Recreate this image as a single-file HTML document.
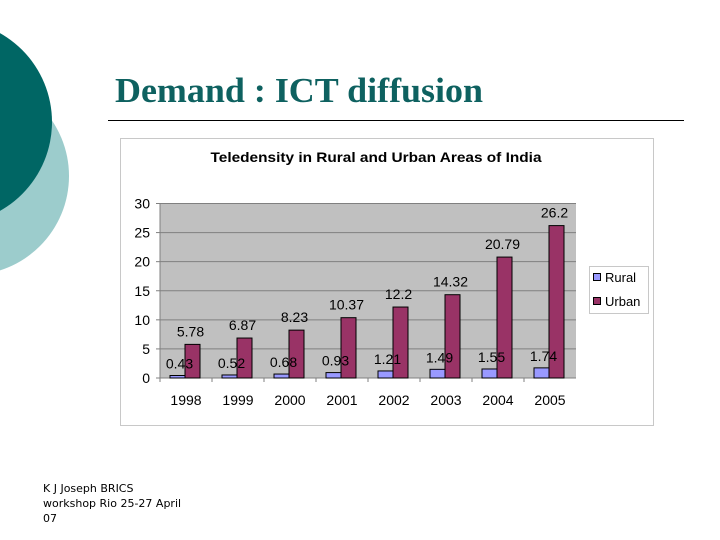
<!DOCTYPE html>
<html><head><meta charset="utf-8"><style>
body{margin:0;width:720px;height:540px;overflow:hidden;background:#fff;position:relative;font-family:"Liberation Sans",sans-serif}
</style></head><body>
<svg width="720" height="540" style="position:absolute;left:0;top:0">
<circle cx="-30" cy="176" r="99" fill="#9ccccc"/>
<circle cx="-50" cy="122" r="102" fill="#006664"/>
<text x="115" y="102" font-family="Liberation Serif" font-weight="bold" font-size="35" fill="#0e6160" textLength="368" lengthAdjust="spacingAndGlyphs">Demand : ICT diffusion</text>
<line x1="108" y1="120.5" x2="684" y2="120.5" stroke="#000" stroke-width="1"/>
<rect x="120.5" y="138.5" width="533" height="287" fill="#fff" stroke="#c8c8c8"/>
<text x="376" y="162" text-anchor="middle" font-weight="bold" font-size="14" fill="#000" textLength="331" lengthAdjust="spacingAndGlyphs">Teledensity in Rural and Urban Areas of India</text>
<g id="plot"></g>
<rect x="589.5" y="266.5" width="59" height="47" fill="#fff" stroke="#c8c8c8"/>
<rect x="593.5" y="273.5" width="7" height="7" fill="#9999ff" stroke="#000"/>
<text x="605" y="282" font-size="13">Rural</text>
<rect x="593.5" y="297.5" width="7" height="7" fill="#993366" stroke="#000"/>
<text x="605" y="306" font-size="13">Urban</text>
<g font-family="DejaVu Sans" font-size="11">
<text x="43" y="492">K J Joseph  BRICS</text>
<text x="43" y="507">workshop Rio 25-27 April</text>
<text x="43" y="522">07</text>
</g>
</svg>
<script>
const categories=["1998","1999","2000","2001","2002","2003","2004","2005"];
const rural=[0.43,0.52,0.68,0.93,1.21,1.49,1.55,1.74];
const urban=[5.78,6.87,8.23,10.37,12.2,14.32,20.79,26.2];
const ruralLabels=["0.43","0.52","0.68","0.93","1.21","1.49","1.55","1.74"];
const urbanLabels=["5.78","6.87","8.23","10.37","12.2","14.32","20.79","26.2"];
const yTicks=[0,5,10,15,20,25,30];
const NS="http://www.w3.org/2000/svg";
const g=document.getElementById('plot');
const X0=160,X1=576,Y0=378,Y1=203.5,YMAX=30;
const cw=(X1-X0)/categories.length;
const y=v=>Y0-(v/YMAX)*(Y0-Y1);
const xc=i=>X0+i*cw;
function mk(t,a){const e=document.createElementNS(NS,t);for(const k in a)e.setAttribute(k,a[k]);g.appendChild(e);return e;}
let bg=mk('rect',{x:X0,y:Y1,width:X1-X0,height:Y0-Y1,fill:'#c0c0c0'});


yTicks.forEach(t=>{
  if(t>0){let l=mk('line',{x1:X0,x2:X1,y1:y(t),y2:y(t),stroke:'#808080','stroke-width':1});
  
  }
  let tk=mk('line',{x1:X0-4,x2:X0,y1:y(t),y2:y(t),stroke:'#808080'});
  
  
  let tx=mk('text',{x:X0-10,y:y(t)+5,'text-anchor':'end','font-size':'14'});
  tx.textContent=t;
  
  
});
let ax=mk('line',{x1:X0,x2:X0,y1:Y1,y2:Y0,stroke:'#808080'});


let bx=mk('line',{x1:X0,x2:X1,y1:Y0,y2:Y0,stroke:'#808080'});


categories.forEach((c,i)=>{
  let tk=mk('line',{x1:xc(i),x2:xc(i),y1:Y0,y2:Y0+4,stroke:'#808080'});
  
  
  const bw=15,s=xc(i)+10;
  let r=mk('rect',{x:s,y:y(rural[i]),width:bw,height:Y0-y(rural[i]),fill:'#9999ff',stroke:'#000','stroke-width':1});
  
  
  let u=mk('rect',{x:s+bw,y:y(urban[i]),width:bw,height:Y0-y(urban[i]),fill:'#993366',stroke:'#000','stroke-width':1});
  
  
  let rl=mk('text',{x:s+bw/2+2,y:y(rural[i])-7,'text-anchor':'middle','font-size':'14'});
  rl.textContent=ruralLabels[i];
  
  
  let ul=mk('text',{x:s+bw*1.5-2,y:y(urban[i])-8,'text-anchor':'middle','font-size':'14'});
  ul.textContent=urbanLabels[i];
  
  
  let xl=mk('text',{x:xc(i)+cw/2,y:Y0+27,'text-anchor':'middle','font-size':'14'});
  xl.textContent=c;
  
  
});
</script>
</body></html>
